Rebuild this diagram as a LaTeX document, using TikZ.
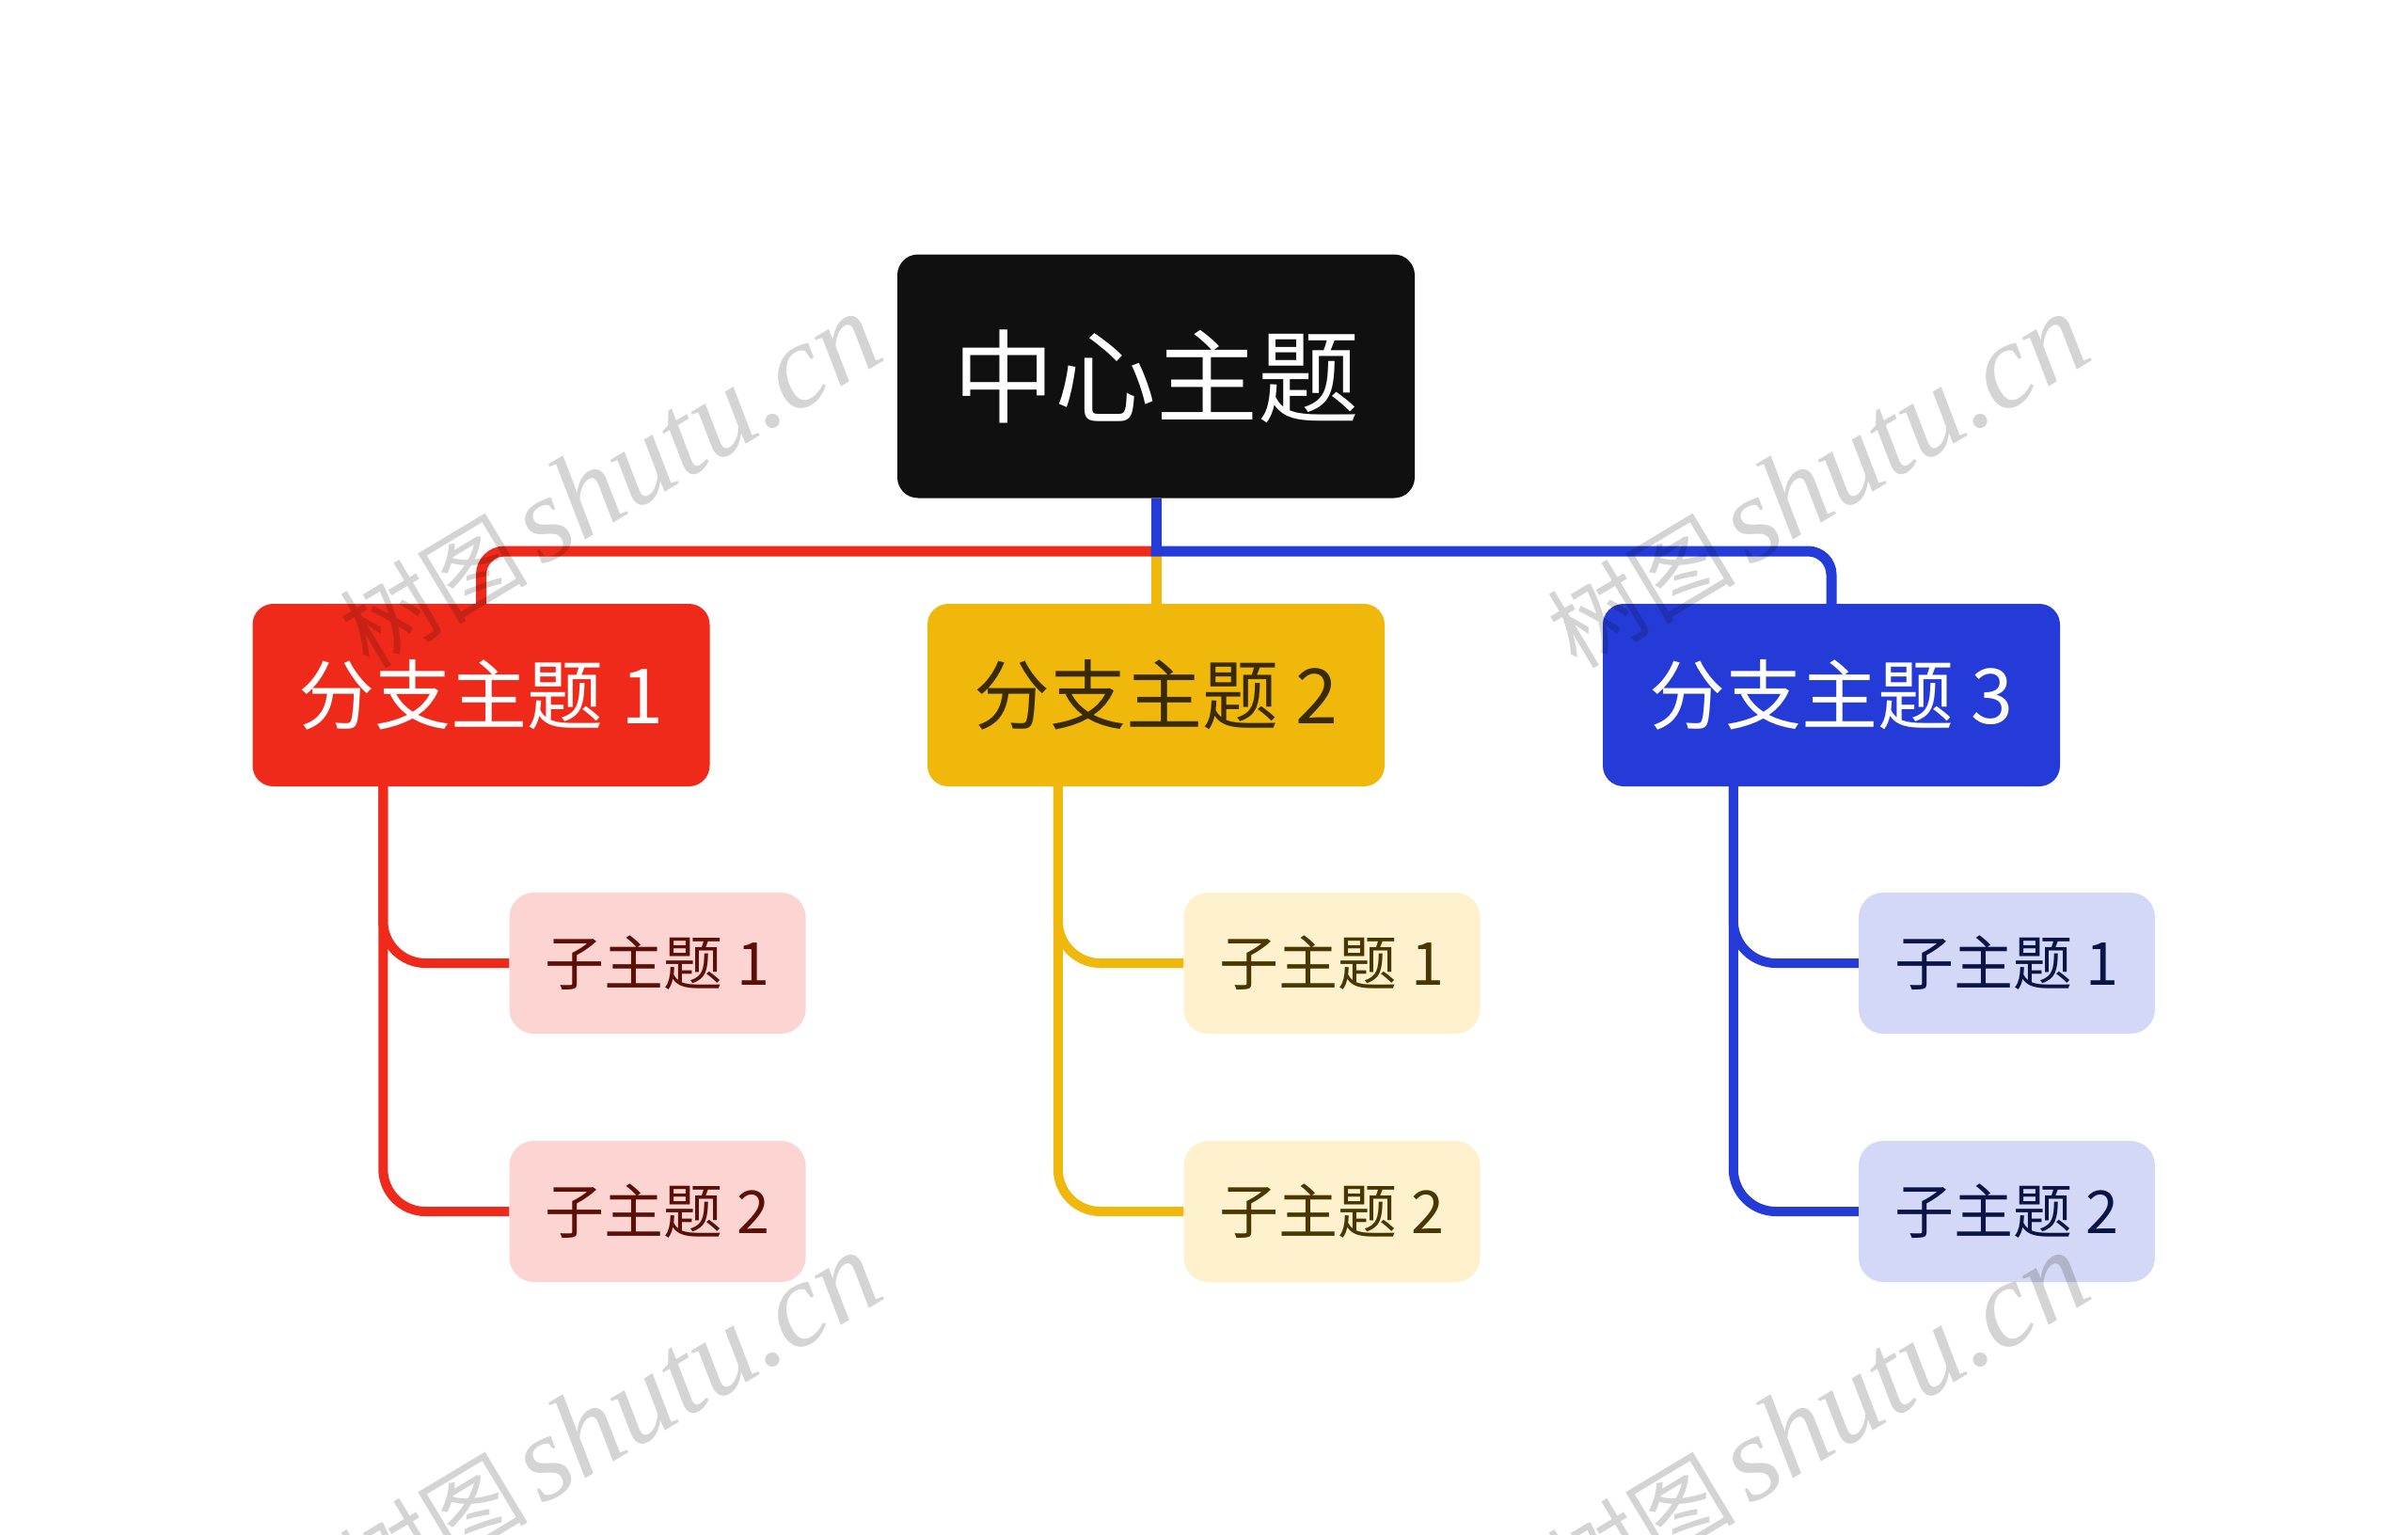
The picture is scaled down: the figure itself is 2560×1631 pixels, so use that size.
\documentclass[tikz,border=0pt]{standalone}
\usepackage{fontspec}
\newfontfamily\cjk{Noto Sans CJK SC}
\newfontfamily\wmserif{Liberation Serif}
\definecolor{cRed}{HTML}{F02A1A}
\definecolor{cYel}{HTML}{EFB80A}
\definecolor{cBlu}{HTML}{253BD8}
\definecolor{cRoot}{HTML}{101010}
\definecolor{sRed}{HTML}{FCD5D2}
\definecolor{sYel}{HTML}{FDF1CE}
\definecolor{sBlu}{HTML}{D3D8F6}
\definecolor{tRed}{HTML}{5C0F07}
\definecolor{tYel}{HTML}{4A3700}
\definecolor{tBlu}{HTML}{0B1446}
\definecolor{tBr2}{HTML}{3A2A00}
\newcommand{\wmtext}{{\cjk\fontsize{100}{100}\selectfont 树图}\hspace{14pt}{\wmserif\itshape\fontsize{128}{128}\selectfont shutu.cn}}
\begin{document}
\begin{tikzpicture}[x=1pt,y=-1pt,
  boxbase/.style={rounded corners=22pt, inner sep=0pt, align=center},
  rootbox/.style={boxbase, fill=cRoot, text=white, minimum width=550pt, minimum height=259pt, font=\cjk\fontsize{108}{108}\selectfont},
  branchbox/.style={boxbase, minimum width=486pt, minimum height=194pt, font=\cjk\fontsize{81}{81}\selectfont},
  subbox/.style={boxbase, rounded corners=26pt, minimum width=315pt, minimum height=150pt, font=\cjk\fontsize{63}{63}\selectfont},
  mainlink/.style={line width=11pt},
  sublink/.style={line width=10pt, rounded corners=45pt},
  wm/.style={text=black, opacity=0.17, rotate=31, inner sep=0pt}
]
\useasboundingbox (0,0) rectangle (2560,1631);
\fill[white] (0,0) rectangle (2560,1631);
\clip (0,0) rectangle (2560,1631);

% nodes
\node[rootbox] (root) at (1229,400) {中心主题};
\node[branchbox, fill=cRed, text=white] (b1) at (511.5,739) {分支主题 1};
\node[branchbox, fill=cYel, text=tBr2] (b2) at (1229,739) {分支主题 2};
\node[branchbox, fill=cBlu, text=white] (b3) at (1947,739) {分支主题 3};

\node[subbox, fill=sRed, text=tRed] (s11) at (699,1024) {子主题 1};
\node[subbox, fill=sRed, text=tRed] (s12) at (699,1288) {子主题 2};
\node[subbox, fill=sYel, text=tYel] (s21) at (1416,1024) {子主题 1};
\node[subbox, fill=sYel, text=tYel] (s22) at (1416,1288) {子主题 2};
\node[subbox, fill=sBlu, text=tBlu] (s31) at (2133.5,1024) {子主题 1};
\node[subbox, fill=sBlu, text=tBlu] (s32) at (2133.5,1288) {子主题 2};

% main connectors
\coordinate (J) at (root.south |- 0,586);
\draw[mainlink, cRed, rounded corners=25pt] (J) -| (b1.north);
\draw[mainlink, cYel] (J) -- (b2.north);
\draw[mainlink, cBlu] (root.south) -- (J);
\draw[mainlink, cBlu, rounded corners=25pt] ([xshift=-5.5pt]J) -| (b3.north);

% sub connectors
\draw[sublink, cRed] (b1.south west) ++(139,0) |- (s11.west);
\draw[sublink, cRed] (b1.south west) ++(139,0) |- (s12.west);
\draw[sublink, cYel] (b2.south west) ++(139,0) |- (s21.west);
\draw[sublink, cYel] (b2.south west) ++(139,0) |- (s22.west);
\draw[sublink, cBlu] (b3.south west) ++(139,0) |- (s31.west);
\draw[sublink, cBlu] (b3.south west) ++(139,0) |- (s32.west);

% watermarks
\node[wm] (w1) at (648,512) {\wmtext};
\node[wm] (w2) at (1932,512) {\wmtext};
\node[wm] (w3) at (648,1510) {\wmtext};
\node[wm] (w4) at (1932,1510) {\wmtext};
\end{tikzpicture}
\end{document}
